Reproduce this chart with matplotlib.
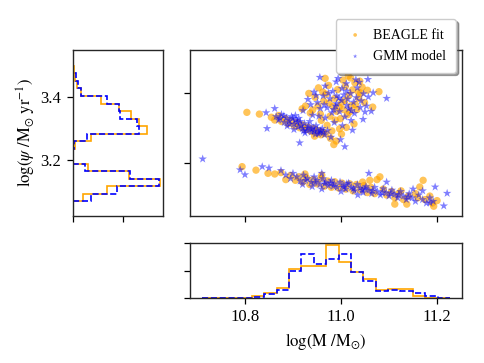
import numpy as np
import matplotlib
matplotlib.use('Agg')
import matplotlib.pyplot as plt

plt.rcParams['font.family'] = ['Liberation Serif', 'DejaVu Serif']
plt.rcParams['mathtext.fontset'] = 'stix'
plt.rcParams['font.size'] = 12

# scatter points (log M, log SFR)
beagle_pts = [
    # upper cloud
    (10.804, 3.344), (10.830, 3.339), (11.079, 3.403), (11.015, 3.448), (11.020, 3.442),
    (11.066, 3.359), (10.985, 3.252), (10.990, 3.262), (10.978, 3.270),
    (10.855, 3.330), (10.862, 3.322), (10.870, 3.335), (10.876, 3.318), (10.884, 3.326),
    (10.890, 3.312), (10.897, 3.320), (10.903, 3.305), (10.909, 3.315), (10.914, 3.300),
    (10.920, 3.308), (10.926, 3.295), (10.931, 3.302), (10.937, 3.290), (10.943, 3.298),
    (10.948, 3.285), (10.953, 3.292), (10.958, 3.280), (10.962, 3.288), (10.945, 3.276),
    (10.968, 3.283),
    (10.926, 3.362), (10.933, 3.398), (10.941, 3.351), (10.946, 3.387), (10.953, 3.414),
    (10.957, 3.339), (10.964, 3.376), (10.969, 3.396), (10.974, 3.421), (10.977, 3.333),
    (10.983, 3.361), (10.987, 3.384), (10.991, 3.347), (10.993, 3.409), (10.999, 3.326),
    (11.001, 3.371), (11.005, 3.352), (11.009, 3.418), (11.013, 3.337), (11.016, 3.392),
    (11.021, 3.363), (11.024, 3.408), (11.029, 3.428), (11.033, 3.352), (11.037, 3.384),
    (11.041, 3.399), (11.044, 3.416), (11.049, 3.372), (11.027, 3.311), (11.011, 3.301),
    (10.997, 3.297), (10.971, 3.307), (10.959, 3.321), (10.936, 3.342), (11.004, 3.436),
    (10.967, 3.441), (11.039, 3.433), (11.055, 3.407), (10.919, 3.354), (11.001, 3.282),
    (10.981, 3.291), (10.996, 3.359), (11.018, 3.345), (10.962, 3.402), (11.036, 3.402),
    (10.988, 3.322), (11.030, 3.366), (10.952, 3.362), (11.008, 3.378), (10.975, 3.371),
    # lower band
    (10.794, 3.189), (10.823, 3.179), (10.848, 3.170), (10.862, 3.168), (10.875, 3.172),
    (10.885, 3.152), (10.895, 3.164), (10.905, 3.150), (10.912, 3.160), (10.920, 3.145),
    (10.928, 3.157), (10.935, 3.138), (10.942, 3.152), (10.950, 3.140), (10.958, 3.155),
    (10.965, 3.133), (10.972, 3.148), (10.980, 3.130), (10.987, 3.146), (10.995, 3.128),
    (11.002, 3.142), (11.010, 3.125), (11.018, 3.140), (11.025, 3.120), (11.032, 3.138),
    (11.040, 3.122), (11.048, 3.135), (11.055, 3.115), (11.062, 3.130), (11.070, 3.112),
    (11.081, 3.160), (11.075, 3.152), (11.088, 3.125), (11.095, 3.108), (11.105, 3.118),
    (11.112, 3.100), (11.120, 3.112), (11.130, 3.095), (11.140, 3.105), (11.112, 3.082),
    (11.137, 3.082), (11.171, 3.150), (11.164, 3.131), (11.193, 3.076), (11.190, 3.085),
    (11.160, 3.100), (11.175, 3.095), (11.185, 3.105), (11.200, 3.092), (11.155, 3.112),
    (11.125, 3.120), (11.045, 3.145), (11.060, 3.150), (10.925, 3.168), (10.960, 3.165),
]

gmm_pts = [
    # upper cloud
    (11.095, 3.384), (11.056, 3.438), (10.956, 3.444), (11.008, 3.246), (10.844, 3.343),
    (10.862, 3.355), (10.846, 3.298), (10.914, 3.257), (11.067, 3.400), (11.038, 3.430),
    (10.990, 3.431),
    (10.865, 3.332), (10.870, 3.322), (10.876, 3.338), (10.882, 3.315), (10.887, 3.328),
    (10.892, 3.320), (10.897, 3.332), (10.902, 3.310), (10.906, 3.322), (10.911, 3.302),
    (10.915, 3.318), (10.920, 3.298), (10.924, 3.312), (10.929, 3.292), (10.933, 3.305),
    (10.938, 3.288), (10.942, 3.300), (10.947, 3.282), (10.951, 3.295), (10.956, 3.286),
    (10.961, 3.298), (10.966, 3.280), (10.972, 3.292), (10.902, 3.295), (10.925, 3.285),
    (10.888, 3.305), (10.905, 3.335), (10.935, 3.318),
    (10.873, 3.327), (10.881, 3.334), (10.893, 3.311), (10.899, 3.326), (10.909, 3.316),
    (10.917, 3.306), (10.922, 3.291), (10.931, 3.299), (10.939, 3.296), (10.944, 3.290),
    (10.953, 3.283), (10.958, 3.292), (10.963, 3.287), (10.948, 3.306), (10.912, 3.327),
    (10.931, 3.381), (10.937, 3.366), (10.944, 3.402), (10.951, 3.372), (10.957, 3.355),
    (10.963, 3.391), (10.967, 3.419), (10.971, 3.357), (10.977, 3.383), (10.981, 3.343),
    (10.983, 3.404), (10.989, 3.362), (10.991, 3.391), (10.997, 3.346), (11.001, 3.378),
    (11.002, 3.412), (11.008, 3.331), (11.012, 3.364), (11.014, 3.382), (11.020, 3.398),
    (11.022, 3.349), (11.026, 3.373), (11.032, 3.386), (11.034, 3.414), (11.040, 3.358),
    (11.042, 3.377), (11.047, 3.397), (11.053, 3.362), (11.057, 3.388), (11.063, 3.347),
    (11.021, 3.321), (11.003, 3.306), (10.986, 3.315), (10.967, 3.328), (10.954, 3.333),
    (11.011, 3.426), (10.994, 3.441), (11.031, 3.437), (11.046, 3.324), (10.979, 3.273),
    (10.999, 3.266), (11.024, 3.293), (10.941, 3.336), (10.921, 3.349), (11.016, 3.354),
    (10.991, 3.369), (11.006, 3.394), (10.974, 3.399), (10.948, 3.392), (10.965, 3.366),
    (11.028, 3.341), (10.985, 3.352), (11.050, 3.345), (11.012, 3.405), (10.996, 3.385),
    # lower band
    (10.712, 3.211), (10.790, 3.180), (10.800, 3.166), (10.836, 3.189), (10.850, 3.185),
    (10.875, 3.178), (10.885, 3.165), (10.895, 3.155), (10.900, 3.170), (10.908, 3.160),
    (10.915, 3.148), (10.922, 3.165), (10.930, 3.155), (10.938, 3.145), (10.944, 3.160),
    (10.950, 3.150), (10.956, 3.138), (10.962, 3.155), (10.968, 3.145), (10.974, 3.135),
    (10.980, 3.150), (10.986, 3.140), (10.992, 3.130), (10.998, 3.145), (11.004, 3.135),
    (11.010, 3.125), (11.016, 3.142), (11.022, 3.130), (11.028, 3.120), (11.034, 3.138),
    (11.040, 3.128), (11.046, 3.115), (11.052, 3.132), (11.058, 3.122), (11.064, 3.112),
    (11.070, 3.130), (11.076, 3.118), (11.082, 3.108), (11.088, 3.126), (11.094, 3.115),
    (11.100, 3.105), (11.106, 3.122), (11.112, 3.110), (11.118, 3.100), (11.124, 3.118),
    (11.130, 3.105), (11.136, 3.095), (11.142, 3.112), (11.148, 3.100), (11.155, 3.090),
    (11.162, 3.108), (11.170, 3.095), (11.178, 3.085), (11.185, 3.100), (11.192, 3.090),
    (11.185, 3.086), (11.196, 3.131), (11.221, 3.113), (11.214, 3.077), (11.058, 3.170),
    (11.095, 3.145), (11.150, 3.125), (11.170, 3.120), (10.960, 3.125), (10.940, 3.132),
    (11.000, 3.118), (11.035, 3.108), (10.920, 3.138), (10.960, 3.170),
    (10.926, 3.150), (10.946, 3.143), (10.966, 3.140), (10.984, 3.133), (11.006, 3.130),
    (11.026, 3.126), (11.044, 3.122), (11.066, 3.120), (11.086, 3.114), (11.104, 3.112),
    (11.120, 3.108), (11.140, 3.102), (10.978, 3.142), (11.012, 3.140), (11.050, 3.126),
]

# histogram of log SFR (left panel)
sfr_edges = [3.069, 3.0928, 3.1166, 3.1403, 3.1641, 3.1879, 3.2117, 3.2355, 3.2592,
             3.283, 3.3068, 3.3306, 3.3544, 3.3781, 3.4019, 3.4257, 3.4495, 3.4733, 3.497]
sfr_beagle = [1.0, 3.37, 8.57, 5.51, 1.56, 0, 0, 0.25, 1.79, 7.32, 6.5, 5.74, 4.62,
              2.78, 0.84, 0.41, 0.25, 0.15]
sfr_gmm = [1.79, 4.36, 8.47, 5.61, 1.23, 0, 0, 0.15, 1.46, 6.5, 6.33, 4.69, 4.62,
           3.44, 0.84, 0.58, 0.35, 0]

# histogram of log M (bottom panel)
mass_edges = [10.711, 10.7368, 10.7626, 10.7884, 10.8142, 10.84, 10.8658, 10.8916,
              10.9174, 10.9432, 10.969, 10.9948, 11.0206, 11.0464, 11.0722, 11.098,
              11.1238, 11.1496, 11.1754, 11.2012, 11.227]
mass_beagle = [0, 0, 0, 0, 0.42, 0.91, 1.94, 5.33, 5.88, 5.76, 9.58, 6.48, 4.67,
               3.45, 1.52, 1.64, 1.76, 0.48, 0, 0]
mass_gmm = [0.12, 0, 0, 0.12, 0.18, 0.73, 1.52, 4.85, 7.88, 6.24, 7.15, 7.88, 4.67,
            3.03, 1.39, 1.52, 1.39, 0.91, 0.42, 0.12]

bx, by = np.array(beagle_pts).T
gx, gy = np.array(gmm_pts).T

fig = plt.figure(figsize=(4.84, 3.63), dpi=100)
ax_main = fig.add_axes([0.392, 0.4058, 0.5626, 0.4565])
ax_left = fig.add_axes([0.1498, 0.4058, 0.187, 0.4565])
ax_bot = fig.add_axes([0.392, 0.1782, 0.5626, 0.1532])

ax_main.scatter(bx, by, s=28, marker='o', color='orange', alpha=0.65,
                edgecolors='none', label='BEAGLE fit')
ax_main.scatter(gx, gy, s=42, marker='*', color='blue', alpha=0.5,
                edgecolors='none', label='GMM model')
ax_main.set_xlim(10.685, 11.252)
ax_main.set_ylim(3.049, 3.522)
ax_main.set_xticks([10.8, 11.0, 11.2])
ax_main.set_yticks([3.2, 3.4])
ax_main.tick_params(labelbottom=False, labelleft=False)

ax_left.stairs(sfr_beagle, sfr_edges, orientation='horizontal', color='orange', lw=1.2)
ax_left.stairs(sfr_gmm, sfr_edges, orientation='horizontal', color='blue', lw=1.2,
               linestyle='--')
ax_left.set_xlim(0, 8.9)
ax_left.set_ylim(3.024, 3.547)
ax_left.set_xticks([0, 5])
ax_left.set_yticks([3.2, 3.4])
ax_left.tick_params(labelbottom=False)
ax_left.set_ylabel(r'$\log(\psi\ /\mathrm{M}_{\odot}\ \mathrm{yr}^{-1})$', labelpad=2)

ax_bot.stairs(mass_beagle, mass_edges, color='orange', lw=1.2)
ax_bot.stairs(mass_gmm, mass_edges, color='blue', lw=1.2, linestyle='--')
ax_bot.set_xlim(10.685, 11.252)
ax_bot.set_ylim(0, 10)
ax_bot.set_xticks([10.8, 11.0, 11.2])
ax_bot.set_yticks([0, 5, 10])
ax_bot.tick_params(labelleft=False)
ax_bot.set_xlabel(r'$\log(\mathrm{M}\ /\mathrm{M}_{\odot})$')

for ax in (ax_main, ax_left, ax_bot):
    ax.tick_params(length=4.5, width=0.9)
    for sp in ax.spines.values():
        sp.set_linewidth(1.0)
        sp.set_color('0.15')

fig.legend(handles=ax_main.collections, loc='upper right',
           bbox_to_anchor=(0.942, 0.948), borderaxespad=0, fontsize=10,
           shadow=True, fancybox=True, markerscale=0.5, handletextpad=0.6,
           handlelength=1.4, borderpad=0.7, labelspacing=0.6)

fig.savefig('out.png', dpi=100)
